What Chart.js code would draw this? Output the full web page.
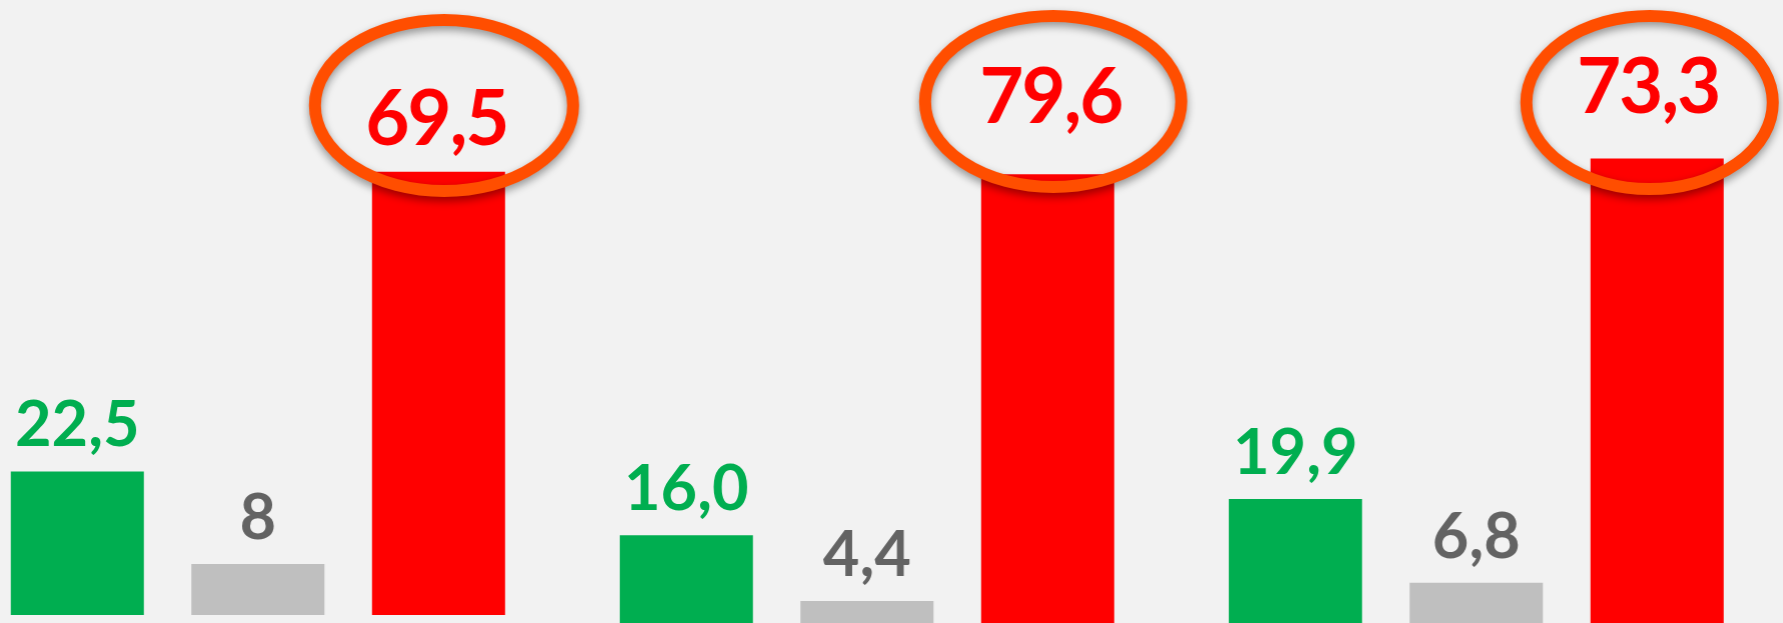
<!DOCTYPE html>
<html>
<head>
<meta charset="utf-8">
<script src="https://cdn.jsdelivr.net/npm/chart.js@4.4.1/dist/chart.umd.min.js"></script>
<style>
  html, body { margin: 0; padding: 0; width: 1783px; height: 623px; overflow: hidden; background: #f2f2f2; }
  .wrap { position: absolute; top: 0; }
</style>
</head>
<body>
<div class="wrap" id="w0"><canvas id="c0"></canvas></div>
<div class="wrap" id="w1"><canvas id="c1"></canvas></div>
<div class="wrap" id="w2"><canvas id="c2"></canvas></div>
<script>
// ---- data ----
const groups = ['Gruppe 1', 'Gruppe 2', 'Gruppe 3'];
const seriesNames = ['Grün', 'Grau', 'Rot'];
const greenValues = [22.5, 16.0, 19.9];
const grayValues  = [8, 4.4, 6.8];
const redValues   = [69.5, 79.6, 73.3];
const greenLabels = ['22,5', '16,0', '19,9'];
const grayLabels  = ['8', '4,4', '6,8'];
const redLabels   = ['69,5', '79,6', '73,3'];

// ---- styling / layout ----
const BAR_COLORS  = ['#00ae50', '#bfbfbf', '#ff0000'];
const TEXT_COLORS = ['#00ae50', '#636363', '#ff0000'];
const FONT_SMALL = 'bold 63px Lato';
const FONT_BIG   = 'bold 76px Lato';
const AREA_W = 541.5;
const layouts = [
  { left: -12.75, height: 615, max: 615 / 6.378, redGap: 27, redDx: -2, ring: { dx: 5.5,  cy: 105.5, rx: 129, ry: 85.5 } },
  { left: 596.25, height: 626, max: 626 / 5.676, redGap: 51, redDx: 3,  ring: { dx: 5.5,  cy: 101.5, rx: 128, ry: 85.5 } },
  { left: 1205.25, height: 626, max: 626 / 6.378, redGap: 45, redDx: -9, ring: { dx: -7.5, cy: 102.5, rx: 123, ry: 86.5 } }
];

const labelPlugin = {
  id: 'valueLabels',
  afterDatasetsDraw(chart, args, opts) {
    const ctx = chart.ctx;
    const meta = chart.getDatasetMeta(0);
    ctx.save();
    ctx.textAlign = 'center';
    ctx.textBaseline = 'alphabetic';
    meta.data.forEach((bar, i) => {
      const big = i === 2;
      ctx.font = big ? FONT_BIG : FONT_SMALL;
      try { ctx.letterSpacing = big ? '-2px' : '0px'; } catch (e) {}
      ctx.fillStyle = TEXT_COLORS[i];
      const gap = big ? opts.redGap : 25;
      const dx = big ? opts.redDx : 0;
      ctx.fillText(opts.texts[i], bar.x + dx, bar.y - gap);
    });
    ctx.restore();
    // ring around the red label
    const r = opts.ring;
    const red = meta.data[2];
    ctx.save();
    ctx.beginPath();
    ctx.ellipse(red.x + r.dx, r.cy, r.rx, r.ry, 0, 0, Math.PI * 2);
    ctx.strokeStyle = '#ff4e00';
    ctx.lineWidth = 12;
    ctx.shadowColor = 'rgba(0,0,0,0.4)';
    ctx.shadowBlur = 8;
    ctx.shadowOffsetY = 4;
    ctx.stroke();
    ctx.restore();
  }
};

groups.forEach((g, k) => {
  const L = layouts[k];
  const wrap = document.getElementById('w' + k);
  const width = 1800 - L.left;
  wrap.style.left = L.left + 'px';
  wrap.style.width = width + 'px';
  wrap.style.height = L.height + 'px';
  new Chart(document.getElementById('c' + k), {
    type: 'bar',
    data: {
      labels: seriesNames,
      datasets: [{
        label: g,
        data: [greenValues[k], grayValues[k], redValues[k]],
        backgroundColor: BAR_COLORS,
        borderWidth: 0,
        barPercentage: 133 / 180.5,
        categoryPercentage: 1
      }]
    },
    options: {
      responsive: true,
      maintainAspectRatio: false,
      animation: false,
      layout: { padding: { left: 0, right: width - AREA_W, top: 0, bottom: 0 } },
      scales: {
        x: { display: false, offset: true },
        y: { display: false, min: 0, max: L.max }
      },
      plugins: {
        legend: { display: false },
        tooltip: { enabled: false },
        valueLabels: {
          texts: [greenLabels[k], grayLabels[k], redLabels[k]],
          redGap: L.redGap, redDx: L.redDx, ring: L.ring
        }
      }
    },
    plugins: [labelPlugin]
  });
});
</script>
</body>
</html>
